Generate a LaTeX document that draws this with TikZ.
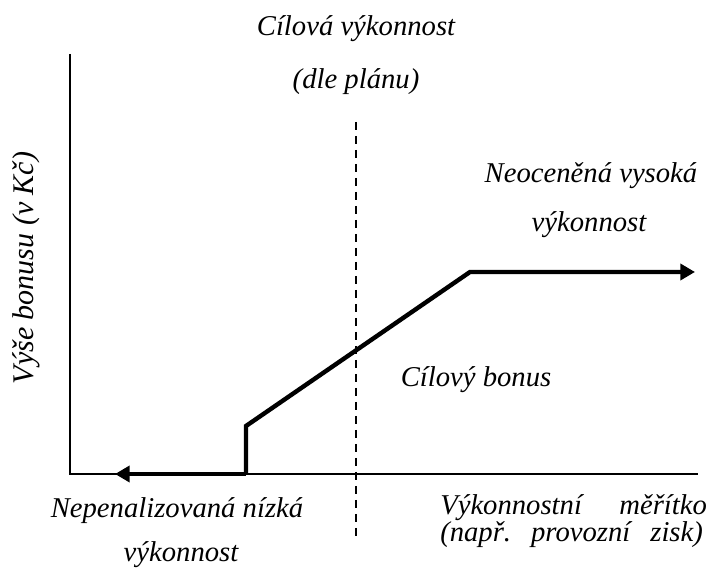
\documentclass[tikz,border=0pt]{standalone}
\usepackage{fontspec}
\setmainfont{Liberation Serif}
\usetikzlibrary{arrows.meta}
\begin{document}
\begin{tikzpicture}[x=0.75pt,y=-0.75pt,
  axis/.style={line width=1.5pt},
  curve/.style={line width=3.3pt},
  guide/.style={line width=1pt, dash pattern=on 6pt off 4.5pt},
  lbl/.style={font=\fontsize{21.5}{26}\selectfont\itshape, inner sep=0pt},
  tip/.style={-{Triangle[length=11pt,width=12pt]}}]
\useasboundingbox (0,0) rectangle (708,580);
% axes
\coordinate (O) at (70,474);
\coordinate (ytop) at (70,54);
\coordinate (xend) at (698,474);
\draw[axis] (ytop) -- (O) -- (xend);
% dashed target line
\coordinate (dtop) at (356,122);
\coordinate (dbot) at (356,537);
\draw[guide] (dtop) -- (dbot);
% bonus curve
\coordinate (step) at (246,474);
\coordinate (kink) at (246,426);
\coordinate (cap) at (470,272);
\coordinate (rend) at (695,272);
\coordinate (lend) at (115,474);
\draw[curve, tip] (step) -- (lend);
\draw[curve, tip, line join=miter] (step) -- (kink) -- (cap) -- (rend);
% labels
\node[lbl, anchor=base] (t1) at (356,36) {Cílová výkonnost};
\node[lbl, anchor=base] (t2) at (356,89) {(dle plánu)};
\node[lbl, anchor=base] (h1) at (591,183) {Neoceněná vysoká};
\node[lbl, anchor=base] (h2) at (589,232) {výkonnost};
\node[lbl, anchor=base] (cb) at (476,387) {Cílový bonus};
\node[lbl, anchor=base] (l1) at (177,518) {Nepenalizovaná nízká};
\node[lbl, anchor=base] (l2) at (181,562) {výkonnost};
% justified two-line axis caption (base = last line)
\node[lbl, anchor=base west, align=left,
      font=\fontsize{21.5}{19}\selectfont\itshape] (meas) at (440,542)
  {\hbox to 200pt{Výkonnostní\hfill měřítko}\\
   \hbox to 197pt{(např.\hfill provozní\hfill zisk)}};
\node[lbl, rotate=90, font=\fontsize{22.5}{26}\selectfont\itshape] (yl) at (26,268) {Výše bonusu (v Kč)};
\end{tikzpicture}
\end{document}
